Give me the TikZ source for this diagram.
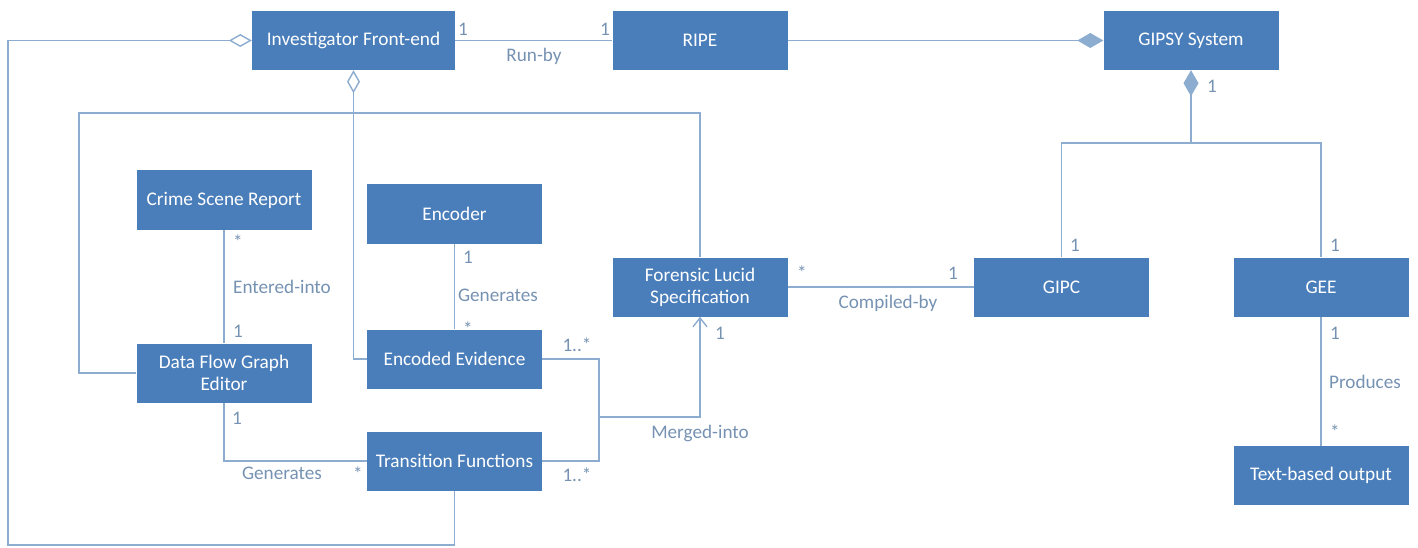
\documentclass[tikz,border=0pt]{standalone}
\usepackage{fontspec}
\setmainfont{Carlito}
\usepackage{tikz}
\usetikzlibrary{positioning,arrows.meta}

\definecolor{boxblue}{RGB}{74,126,186}
\definecolor{lineblue}{RGB}{140,172,208}
\definecolor{textblue}{RGB}{118,146,178}

\begin{document}
\begin{tikzpicture}[x=1pt, y=-1pt,
  cls/.style={draw=none, fill=boxblue, text=white, minimum width=175pt,
    minimum height=59pt, inner sep=2pt, align=center,
    font=\fontsize{19.3}{22}\selectfont},
  lbl/.style={text=textblue, inner sep=0pt, font=\fontsize{19.2}{22}\selectfont},
  conn/.style={draw=lineblue, line width=1.4pt},
  aggr/.style={conn, arrows={Diamond[open,length=23pt,width=13pt]-}},
  compo/.style={conn, arrows={Diamond[length=26pt,width=15pt]-}}]
  \useasboundingbox (0,0) rectangle (1418,548);

  \node[cls, minimum width=203pt] (front) at (353.5,40.5) {Investigator Front-end};
  \node[cls] (ripe) at (700,40.5) {RIPE};
  \node[cls] (gipsy) at (1191,40.5) {GIPSY System};
  \node[cls] (crime) at (224,200) {Crime Scene Report};
  \node[cls] (encoder) at (454.5,214) {Encoder};
  \node[cls] (flucid) at (700,287) {Forensic Lucid\\Specification};
  \node[cls] (gipc) at (1061.5,287) {GIPC};
  \node[cls] (gee) at (1321,287) {GEE};
  \node[cls] (textout) at (1321,475.5) {Text-based output};
  \node[cls] (dfge) at (224,373) {Data Flow Graph\\Editor};
  \node[cls] (encoded) at (454.5,359) {Encoded Evidence};
  \node[cls] (transfn) at (454.5,461) {Transition Functions};

  \coordinate (split) at (1191,143);
  \coordinate (merge) at (599,417);
  \coordinate (loopTL) at (79,113);
  \coordinate (outerTL) at (8,40.5);
  \coordinate (outerBL) at (8,545);

  % associations
  \draw[conn] (front) -- (ripe);
  \draw[compo] (gipsy) -- (ripe);
  \draw[compo] (gipsy) -- (split);
  \draw[conn] (gipc) |- (split) -| (gee);
  \draw[conn] (flucid) -- (gipc);
  \draw[conn] (gee) -- (textout);
  \draw[conn] (crime) -- (dfge);
  \draw[conn] (encoder) -- (encoded);
  \draw[conn] (dfge) |- (transfn);
  \draw[conn] (flucid) |- (loopTL) |- (dfge);
  \draw[conn] (encoded) -| (merge);
  \draw[conn] (transfn) -| (merge);
  \draw[conn, arrows={-Straight Barb[length=9pt,width=14pt]}] (merge) -| (flucid);
  \draw[aggr] (front) |- (encoded);
  \draw[aggr] (front.west) -- (outerTL) -- (outerBL) -| (transfn);

  % multiplicities and roles
  \node[lbl] (m1) at (463,29) {1};
  \node[lbl] (m2) at (605,29) {1};
  \node[lbl] (runby) at (534,56) {Run-by};
  \node[lbl] (m3) at (1212,86) {1};
  \node[lbl] (m4) at (1075,245) {1};
  \node[lbl] (m5) at (1335,245) {1};
  \node[lbl] (m6) at (1335,333) {1};
  \node[lbl] (produces) at (1365,382) {Produces};
  \node[lbl] (m7) at (1335,432) {*};
  \node[lbl] (m8) at (802,273) {*};
  \node[lbl] (m9) at (953,273) {1};
  \node[lbl] (compiled) at (888,303) {Compiled-by};
  \node[lbl] (m10) at (720,333) {1};
  \node[lbl] (merged) at (700,433) {Merged-into};
  \node[lbl] (m11) at (577,345) {1..*};
  \node[lbl] (m12) at (577,475) {1..*};
  \node[lbl] (m13) at (238,242) {*};
  \node[lbl] (entered) at (282,287) {Entered-into};
  \node[lbl] (m14) at (238,331) {1};
  \node[lbl] (m15) at (468,257) {1};
  \node[lbl] (generates1) at (498,295) {Generates};
  \node[lbl] (m16) at (468,329) {*};
  \node[lbl] (m17) at (237,418) {1};
  \node[lbl] (generates2) at (282,473) {Generates};
  \node[lbl] (m18) at (358,474) {*};
\end{tikzpicture}
\end{document}
